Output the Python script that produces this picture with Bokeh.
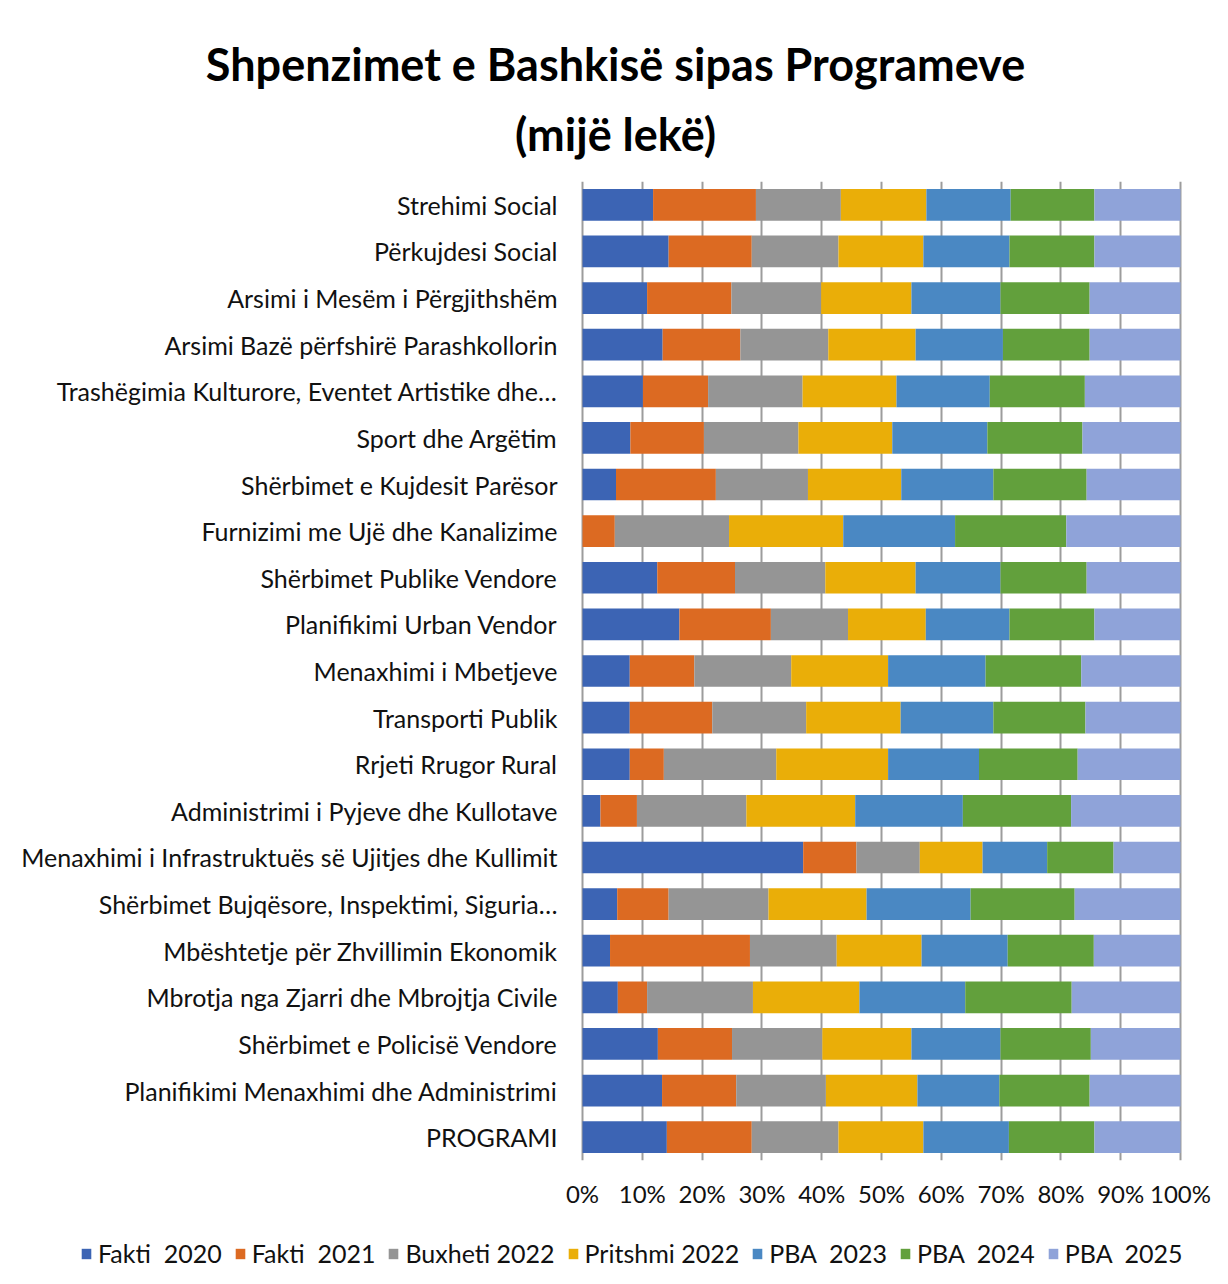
from bokeh.plotting import figure
from bokeh.layouts import column
from bokeh.models import (ColumnDataSource, FactorRange, Range1d, Title, Legend,
                          LegendItem, NumeralTickFormatter, FixedTicker)
from bokeh.core.properties import value
from bokeh.embed import file_html
from bokeh.resources import INLINE

# ---------------- data (top-to-bottom order, shares in %) ----------------
categories = [
    "Strehimi Social",
    "Përkujdesi Social",
    "Arsimi i Mesëm i Përgjithshëm",
    "Arsimi Bazë përfshirë Parashkollorin",
    "Trashëgimia Kulturore, Eventet Artistike dhe…",
    "Sport dhe Argëtim",
    "Shërbimet e Kujdesit Parësor",
    "Furnizimi me Ujë dhe Kanalizime",
    "Shërbimet Publike Vendore",
    "Planifikimi Urban Vendor",
    "Menaxhimi i Mbetjeve",
    "Transporti Publik",
    "Rrjeti Rrugor Rural",
    "Administrimi i Pyjeve dhe Kullotave",
    "Menaxhimi i Infrastruktuës së Ujitjes dhe Kullimit",
    "Shërbimet Bujqësore, Inspektimi, Siguria…",
    "Mbështetje për Zhvillimin Ekonomik",
    "Mbrotja nga Zjarri dhe Mbrojtja Civile",
    "Shërbimet e Policisë Vendore",
    "Planifikimi Menaxhimi dhe Administrimi",
    "PROGRAMI",
]

fakti_2020    = [11.8, 14.4, 10.8, 13.4, 10.1, 8.0, 5.6, 0.0, 12.5, 16.2, 7.9, 7.9, 7.9, 3.0, 36.9, 5.8, 4.6, 5.9, 12.6, 13.3, 14.1]
fakti_2021    = [17.2, 13.9, 14.1, 13.0, 10.9, 12.3, 16.7, 5.4, 13.0, 15.3, 10.8, 13.8, 5.7, 6.1, 8.9, 8.6, 23.4, 4.9, 12.4, 12.4, 14.2]
buxheti_2022  = [14.2, 14.5, 15.0, 14.7, 15.8, 15.8, 15.4, 19.1, 15.1, 12.9, 16.2, 15.7, 18.8, 18.3, 10.6, 16.7, 14.5, 17.7, 15.1, 15.0, 14.5]
pritshmi_2022 = [14.3, 14.2, 15.1, 14.6, 15.7, 15.7, 15.6, 19.1, 15.1, 13.0, 16.2, 15.8, 18.7, 18.2, 10.5, 16.4, 14.2, 17.8, 14.9, 15.3, 14.2]
pba_2023      = [14.1, 14.4, 14.9, 14.6, 15.6, 15.9, 15.4, 18.7, 14.2, 14.0, 16.3, 15.5, 15.2, 18.0, 10.8, 17.4, 14.4, 17.7, 14.9, 13.7, 14.3]
pba_2024      = [14.0, 14.2, 14.9, 14.5, 15.9, 15.9, 15.6, 18.6, 14.4, 14.2, 16.0, 15.4, 16.5, 18.1, 11.1, 17.4, 14.4, 17.8, 15.1, 15.1, 14.3]
pba_2025      = [14.4, 14.4, 15.2, 15.2, 16.0, 16.4, 15.7, 19.1, 15.7, 14.4, 16.6, 15.9, 17.2, 18.3, 11.2, 17.7, 14.5, 18.2, 15.0, 15.2, 14.4]

series_names = ["Fakti  2020", "Fakti  2021", "Buxheti 2022", "Pritshmi 2022",
                "PBA  2023", "PBA  2024", "PBA  2025"]
tick_values = [0, 0.1, 0.2, 0.3, 0.4, 0.5, 0.6, 0.7, 0.8, 0.9, 1.0]
title_line1 = "Shpenzimet e Bashkisë sipas Programeve"
title_line2 = "(mijë lekë)"

# ---------------- build source ----------------
series = [fakti_2020, fakti_2021, buxheti_2022, pritshmi_2022, pba_2023, pba_2024, pba_2025]
keys = ["f2020", "f2021", "b2022", "p2022", "pba2023", "pba2024", "pba2025"]
colors = ["#3C64B4", "#DC6A22", "#959595", "#EAAE08", "#4A88C3", "#62A03C", "#8FA3D9"]

n = len(categories)
totals = [sum(s[i] for s in series) for i in range(n)]
data = {"cat": categories}
for k, s in zip(keys, series):
    data[k] = [s[i] / totals[i] for i in range(n)]
src = ColumnDataSource(data)

FONT = "Lato"
TXT = "#111111"

# ---------------- main chart ----------------
p = figure(width=1226, height=1224,
           y_range=FactorRange(factors=categories[::-1], range_padding=0),
           x_range=Range1d(-0.9532, 1.0635),
           y_axis_location=None,
           output_backend="svg", toolbar_location=None, title=None,
           min_border_left=12, min_border_right=8,
           min_border_top=181, min_border_bottom=64)
p.background_fill_color = "white"
p.border_fill_color = "white"
p.outline_line_color = None

renderers = p.hbar_stack(keys, y="cat", height=0.68, fill_color=colors,
                         line_color=None, source=src)

# category labels (right-aligned just left of 0%)
p.text(x=-0.0418, y="cat", text="cat", source=src,
       text_align="right", text_baseline="middle",
       text_font=value(FONT), text_font_size=value("25px"), text_color=TXT)

# x axis
p.xaxis.ticker = FixedTicker(ticks=tick_values)
p.xaxis.formatter = NumeralTickFormatter(format="0%")
p.xaxis.axis_line_color = None
p.xaxis.major_tick_line_color = None
p.xaxis.minor_tick_line_color = None
p.xaxis.major_tick_out = 0
p.xaxis.major_tick_in = 0
p.xaxis.major_label_standoff = 18
p.xaxis.major_label_text_font = FONT
p.xaxis.major_label_text_font_size = "24px"
p.xaxis.major_label_text_color = TXT

p.ygrid.grid_line_color = None
p.xgrid.ticker = FixedTicker(ticks=tick_values)
p.xgrid.grid_line_color = "#9c9c9c"
p.xgrid.grid_line_width = 2

# title: second line first (closest to the plot), then first line above it
p.add_layout(Title(text=title_line2, align="center", standoff=42,
                   text_font=FONT, text_font_size="45px", text_font_style="bold",
                   text_color="#000000"), "above")
p.add_layout(Title(text=title_line1, align="center", standoff=-14,
                   text_font=FONT, text_font_size="45px", text_font_style="bold",
                   text_color="#000000"), "above")

# ---------------- legend strip (borders match the main chart so frames align) ----------------
pl = figure(width=1226, height=58, x_range=Range1d(0, 1), y_range=Range1d(0, 1),
            x_axis_location=None, y_axis_location=None,
            output_backend="svg", toolbar_location=None, title=None,
            min_border_left=12, min_border_right=8, min_border_top=0, min_border_bottom=0)
pl.outline_line_color = None
pl.grid.grid_line_color = None
pl.background_fill_color = "white"
pl.border_fill_color = "white"

# legend swatches: one off-range bar per series so the legend has a glyph to draw
swatches = [pl.hbar(y=[-5], left=[0], right=[1], height=0.5, fill_color=c, line_color=None)
            for c in colors]
legend = Legend(items=[LegendItem(label=nm, renderers=[r]) for nm, r in zip(series_names, swatches)],
                orientation="horizontal", location=(68, 14),
                label_text_font=FONT, label_text_font_size="25px", label_text_color=TXT,
                glyph_width=12, glyph_height=13, label_standoff=6, spacing=12,
                padding=0, margin=0, border_line_color=None, background_fill_alpha=0)
pl.add_layout(legend)

layout = column(p, pl, spacing=0)

open("out.html", "w").write(file_html(layout, INLINE))
